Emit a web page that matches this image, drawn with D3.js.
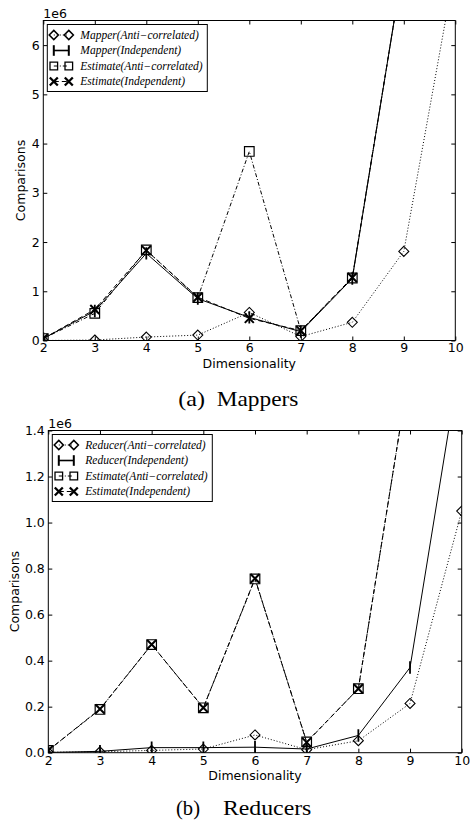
<!DOCTYPE html>
<html>
<head>
<meta charset="utf-8">
<script src="https://cdn.jsdelivr.net/npm/d3@7"></script>
<style>
body { margin: 0; background: #fff; }
text { font-family: "DejaVu Sans", sans-serif; fill: #000; }
.tick line { stroke: #000; }
.legend text { font-family: "Liberation Serif", serif; font-style: italic; font-size: 11.5px; }
.caption { font-family: "Liberation Serif", serif; font-size: 22px; }
</style>
</head>
<body>
<svg id="fig" width="470" height="821"></svg>
<script>
// dimensionality on x
var dims = [2, 3, 4, 5, 6, 7, 8, 9, 10];
var xTicks = [2, 3, 4, 5, 6, 7, 8, 9, 10];

// (a) mappers -- comparisons, in units of 1e6
var mapperAnti     = [0.0, 0.01, 0.07, 0.11, 0.57, 0.08, 0.37, 1.81, 7.6];
var mapperIndep    = [0.04, 0.60, 1.77, 0.85, 0.47, 0.18, 1.26, 7.7, 16];
var mapEstAnti     = [0.04, 0.55, 1.84, 0.87, 3.84, 0.20, 1.27, 7.7, 16];
var mapEstIndep    = [0.04, 0.63, 1.83, 0.88, 0.45, 0.20, 1.28, 7.7, 16];
var mapperYTicks   = [0, 1, 2, 3, 4, 5, 6];

// (b) reducers -- comparisons, in units of 1e6
var reducerAnti    = [0.002, 0.004, 0.010, 0.016, 0.077, 0.013, 0.052, 0.214, 1.05];
var reducerIndep   = [0.001, 0.006, 0.022, 0.022, 0.024, 0.016, 0.075, 0.37, 1.75];
var redEstAnti     = [0.010, 0.188, 0.470, 0.195, 0.755, 0.047, 0.278, 1.68, 5.0];
var redEstIndep    = [0.010, 0.190, 0.470, 0.195, 0.757, 0.045, 0.278, 1.68, 5.0];
var reducerYTicks  = [0, 0.2, 0.4, 0.6, 0.8, 1.0, 1.2, 1.4];

var svg = d3.select('#fig');

var DOTTED = '1,2', DASHED = '5,3', DASHDOT = '4,2,1,2';

function markerPath(type, s) {
  if (type == 'diamond') return 'M0,' + (-s) + 'L' + s + ',0L0,' + s + 'L' + (-s) + ',0Z';
  if (type == 'square') return 'M' + (-s) + ',' + (-s) + 'H' + s + 'V' + s + 'H' + (-s) + 'Z';
  if (type == 'x') return 'M' + (-s) + ',' + (-s) + 'L' + s + ',' + s + 'M' + s + ',' + (-s) + 'L' + (-s) + ',' + s;
  return 'M0,' + (-s) + 'V' + s; // vertical bar
}
var markerSize = { diamond: 5, square: 4.8, x: 4.5, vbar: 6.2 };
var markerWidth = { diamond: 1.1, square: 1.2, x: 2, vbar: 1.8 };
var legendSize = { diamond: 4.6, square: 3.8, x: 4, vbar: 5.3 };
var legendWidth = { diamond: 1.5, square: 1.3, x: 2.3, vbar: 2 };

function drawPanel(cfg) {
  var x = d3.scaleLinear().domain([2, 10]).range([cfg.left, cfg.right]);
  var y = d3.scaleLinear().domain([0, cfg.yMax]).range([cfg.bottom, cfg.top]);
  var g = svg.append('g');

  svg.append('clipPath').attr('id', 'clip-' + cfg.id)
    .append('rect')
      .attr('x', cfg.left).attr('y', cfg.top)
      .attr('width', cfg.right - cfg.left).attr('height', cfg.bottom - cfg.top);

  var plot = g.append('g').attr('clip-path', 'url(#clip-' + cfg.id + ')');
  var line = d3.line().x(function(d) { return x(d[0]); }).y(function(d) { return y(d[1]); });

  cfg.series.forEach(function(s) {
    var pts = dims.map(function(d, i) { return [d, s.values[i]]; });
    plot.append('path')
      .datum(pts)
      .attr('d', line)
      .attr('fill', 'none')
      .attr('stroke', '#000')
      .attr('stroke-width', 1)
      .attr('stroke-dasharray', s.dash);
    plot.selectAll(null)
      .data(pts)
    .enter().append('path')
      .attr('transform', function(d) { return 'translate(' + x(d[0]) + ',' + y(d[1]) + ')'; })
      .attr('d', markerPath(s.marker, markerSize[s.marker]))
      .attr('fill', 'none')
      .attr('stroke', '#000')
      .attr('stroke-width', markerWidth[s.marker]);
  });

  // axes, ticks pointing in on all four sides
  g.append('g')
    .attr('transform', 'translate(0,' + cfg.bottom + ')')
    .call(d3.axisBottom(x).tickValues(xTicks).tickFormat(d3.format('d')).tickSizeInner(-4).tickSizeOuter(0).tickPadding(3));
  g.append('g')
    .attr('transform', 'translate(0,' + cfg.top + ')')
    .call(d3.axisTop(x).tickValues(xTicks).tickFormat('').tickSizeInner(-4).tickSizeOuter(0));
  g.append('g')
    .attr('transform', 'translate(' + cfg.left + ',0)')
    .call(d3.axisLeft(y).tickValues(cfg.yTicks).tickFormat(cfg.yFormat).tickSizeInner(-4).tickSizeOuter(0).tickPadding(3.5));
  g.append('g')
    .attr('transform', 'translate(' + cfg.right + ',0)')
    .call(d3.axisRight(y).tickValues(cfg.yTicks).tickFormat('').tickSizeInner(-4).tickSizeOuter(0));
  g.selectAll('.domain').remove();
  g.selectAll('.tick text').style('font-size', '12.5px').style('font-family', '"DejaVu Sans", sans-serif');

  g.append('rect')
    .attr('x', cfg.left).attr('y', cfg.top)
    .attr('width', cfg.right - cfg.left).attr('height', cfg.bottom - cfg.top)
    .attr('fill', 'none').attr('stroke', '#000').attr('stroke-width', 1);

  // offset text
  g.append('text')
    .attr('x', cfg.left).attr('y', cfg.top - 2.5)
    .style('font-size', '12.5px')
    .text('1e6');

  g.append('text')
    .attr('x', (cfg.left + cfg.right) / 2).attr('y', cfg.bottom + 27)
    .attr('text-anchor', 'middle')
    .style('font-size', '12.5px')
    .text('Dimensionality');

  g.append('text')
    .attr('transform', 'translate(' + cfg.yLabelX + ',' + (cfg.top + cfg.bottom) / 2 + ')rotate(-90)')
    .attr('text-anchor', 'middle')
    .style('font-size', '12.5px')
    .text('Comparisons');

  // legend
  var lx = cfg.left + 4, ly = cfg.top + 4;
  var leg = g.append('g').attr('class', 'legend');
  leg.append('rect')
    .attr('x', lx).attr('y', ly).attr('width', 160).attr('height', 67)
    .attr('fill', '#fff').attr('stroke', '#000').attr('stroke-width', 1);
  cfg.series.forEach(function(s, i) {
    var cy = ly + 10.5 + i * 15.5;
    leg.append('line')
      .attr('x1', lx + 6.5).attr('x2', lx + 21.5).attr('y1', cy).attr('y2', cy)
      .attr('stroke', '#000').attr('stroke-width', s.marker == 'vbar' ? 1.6 : 1)
      .attr('stroke-dasharray', s.dash);
    [6.5, 21.5].forEach(function(dx) {
      leg.append('path')
        .attr('transform', 'translate(' + (lx + dx) + ',' + cy + ')')
        .attr('d', markerPath(s.marker, legendSize[s.marker]))
        .attr('fill', 'none').attr('stroke', '#000')
        .attr('stroke-width', legendWidth[s.marker]);
    });
    leg.append('text')
      .attr('x', lx + 33).attr('y', cy + 3.8)
      .text(s.label);
  });

  // caption
  g.append('text').attr('class', 'caption')
    .attr('x', cfg.capX[0]).attr('y', cfg.capY)
    .attr('textLength', cfg.capW[0]).attr('lengthAdjust', 'spacingAndGlyphs')
    .text(cfg.caption[0]);
  g.append('text').attr('class', 'caption')
    .attr('x', cfg.capX[1]).attr('y', cfg.capY)
    .attr('textLength', cfg.capW[1]).attr('lengthAdjust', 'spacingAndGlyphs')
    .text(cfg.caption[1]);
}

drawPanel({
  id: 'a',
  left: 43.3, right: 455.3, top: 20.5, bottom: 340.5,
  yMax: 6.5, yTicks: mapperYTicks, yFormat: d3.format('d'),
  yLabelX: 25,
  series: [
    { label: 'Mapper(Anti\u2212correlated)', values: mapperAnti, marker: 'diamond', dash: DOTTED },
    { label: 'Mapper(Independent)', values: mapperIndep, marker: 'vbar', dash: null },
    { label: 'Estimate(Anti\u2212correlated)', values: mapEstAnti, marker: 'square', dash: DASHDOT },
    { label: 'Estimate(Independent)', values: mapEstIndep, marker: 'x', dash: DASHED }
  ],
  caption: ['(a)', 'Mappers'], capX: [178.3, 216.7], capW: [26.7, 81.7], capY: 406
});

drawPanel({
  id: 'b',
  left: 48.3, right: 461.7, top: 430.5, bottom: 752.7,
  yMax: 1.4, yTicks: reducerYTicks, yFormat: d3.format('.1f'),
  yLabelX: 19,
  series: [
    { label: 'Reducer(Anti\u2212correlated)', values: reducerAnti, marker: 'diamond', dash: DOTTED },
    { label: 'Reducer(Independent)', values: reducerIndep, marker: 'vbar', dash: null },
    { label: 'Estimate(Anti\u2212correlated)', values: redEstAnti, marker: 'square', dash: DASHDOT },
    { label: 'Estimate(Independent)', values: redEstIndep, marker: 'x', dash: DASHED }
  ],
  caption: ['(b)', 'Reducers'], capX: [176, 223], capW: [24, 88.3], capY: 815
});
</script>
</body>
</html>
